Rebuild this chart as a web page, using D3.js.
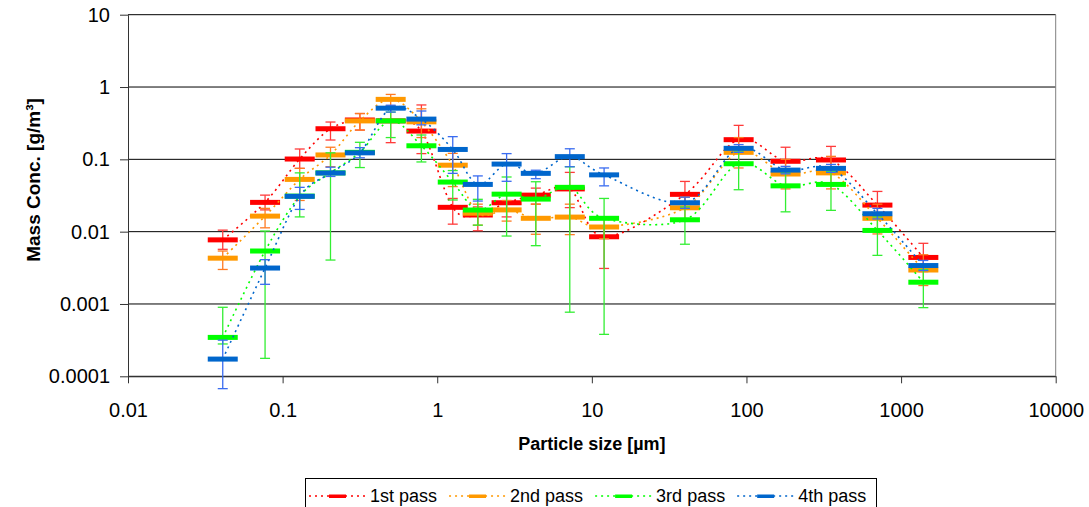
<!DOCTYPE html>
<html>
<head>
<meta charset="utf-8">
<script src="https://cdn.jsdelivr.net/npm/d3@7"></script>
<style>
  body { margin: 0; background: #fff; }
  text { font-family: "Liberation Sans", Arial, sans-serif; fill: #000; }
</style>
</head>
<body>
<svg width="1089" height="507"></svg>
<script>
// particle size classes [µm]
const sizes = [0.041, 0.077, 0.129, 0.204, 0.316, 0.50, 0.79, 1.26, 1.83, 2.81, 4.34, 7.2, 12.0, 40, 89, 179, 352, 703, 1393];

const pass1   = [0.0077, 0.0254, 0.101, 0.265, 0.35, 0.34, 0.246, 0.0217, 0.017, 0.0251, 0.032, 0.039, 0.0085, 0.0328, 0.187, 0.094, 0.098, 0.0233, 0.0044];
const pass1Hi = [0.0105, 0.032, 0.139, 0.328, 0.43, 0.50, 0.565, 0.0288, 0.022, 0.034, 0.04, 0.066, 0.012, 0.0495, 0.295, 0.147, 0.151, 0.036, 0.0069];
const pass1Lo = [0.0057, 0.020, 0.075, 0.185, 0.254, 0.17, 0.12, 0.0127, 0.0103, 0.016, 0.024, 0.0215, 0.0031, 0.022, 0.12, 0.06, 0.063, 0.015, 0.0028];

const pass2   = [0.0043, 0.0164, 0.0528, 0.115, 0.34, 0.675, 0.33, 0.083, 0.018, 0.020, 0.0153, 0.0159, 0.0116, 0.0214, 0.125, 0.0627, 0.065, 0.0153, 0.00295];
const pass2Hi = [0.0054, 0.021, 0.075, 0.147, 0.43, 0.79, 0.50, 0.121, 0.024, 0.027, 0.024, 0.024, 0.015, 0.03, 0.2, 0.1, 0.11, 0.024, 0.0048];
const pass2Lo = [0.0030, 0.0113, 0.027, 0.079, 0.254, 0.55, 0.2, 0.042, 0.0123, 0.014, 0.0092, 0.0091, 0.008, 0.0145, 0.076, 0.039, 0.039, 0.0093, 0.0018];

const pass3   = [0.000345, 0.0054, 0.031, 0.065, 0.125, 0.34, 0.154, 0.0485, 0.0199, 0.033, 0.0282, 0.041, 0.0153, 0.0146, 0.087, 0.043, 0.045, 0.0104, 0.002];
const pass3Hi = [0.0009, 0.0102, 0.065, 0.123, 0.172, 0.45, 0.217, 0.07, 0.028, 0.057, 0.049, 0.079, 0.0288, 0.022, 0.13, 0.065, 0.068, 0.016, 0.003];
const pass3Lo = [0.00028, 0.000177, 0.016, 0.00405, 0.077, 0.2, 0.092, 0.0274, 0.0123, 0.0087, 0.0064, 0.00077, 0.00038, 0.0067, 0.038, 0.0188, 0.0197, 0.0047, 0.00089];

const pass4   = [0.000173, 0.00314, 0.0308, 0.0647, 0.123, 0.51, 0.36, 0.137, 0.045, 0.086, 0.064, 0.109, 0.061, 0.0251, 0.142, 0.071, 0.075, 0.0177, 0.0034];
const pass4Hi = [0.000316, 0.0041, 0.041, 0.078, 0.145, 0.56, 0.466, 0.206, 0.059, 0.12, 0.0707, 0.14, 0.076, 0.03, 0.16, 0.08, 0.085, 0.021, 0.004];
const pass4Lo = [0.0000675, 0.00187, 0.0203, 0.058, 0.105, 0.45, 0.3, 0.064, 0.0265, 0.0497, 0.054, 0.079, 0.043, 0.021, 0.125, 0.063, 0.066, 0.015, 0.0029];

const xTicks = [0.01, 0.1, 1, 10, 100, 1000, 10000];
const xTickLabels = ["0.01", "0.1", "1", "10", "100", "1000", "10000"];
const yTicks = [0.0001, 0.001, 0.01, 0.1, 1, 10];
const yTickLabels = ["0.0001", "0.001", "0.01", "0.1", "1", "10"];

const series = [
  { name: "1st pass", color: "#ff0000", bar: "#ff3b3b", v: pass1, lo: pass1Lo, hi: pass1Hi },
  { name: "2nd pass", color: "#ff9900", bar: "#ff7a22", v: pass2, lo: pass2Lo, hi: pass2Hi },
  { name: "3rd pass", color: "#00ff00", bar: "#33ee33", v: pass3, lo: pass3Lo, hi: pass3Hi },
  { name: "4th pass", color: "#0066cc", bar: "#3a6cf0", v: pass4, lo: pass4Lo, hi: pass4Hi }
];

const svg = d3.select("svg");
const plotLeft = 128, plotRight = 1055.7, plotTop = 14.7, plotBottom = 376.3;

const x = d3.scaleLog().domain([0.01, 10000]).range([plotLeft, plotRight]);
const y = d3.scaleLog().domain([0.0001, 10]).range([plotBottom, plotTop]);

// gridlines
svg.append("g")
  .selectAll("line")
  .data(yTicks)
  .join("line")
  .attr("x1", plotLeft).attr("x2", plotRight)
  .attr("y1", d => y(d)).attr("y2", d => y(d))
  .attr("stroke", "#000").attr("stroke-width", 1);

// right border
svg.append("line")
  .attr("x1", plotRight).attr("x2", plotRight).attr("y1", plotTop).attr("y2", plotBottom)
  .attr("stroke", "#808080");

const yAxis = svg.append("g")
  .attr("transform", "translate(" + plotLeft + ",0)")
  .call(d3.axisLeft(y).tickValues(yTicks)
    .tickFormat((d, i) => yTickLabels[i])
    .tickSizeInner(8).tickSizeOuter(0).tickPadding(10));

const xAxis = svg.append("g")
  .attr("transform", "translate(0," + plotBottom + ")")
  .call(d3.axisBottom(x).tickValues(xTicks)
    .tickFormat((d, i) => xTickLabels[i])
    .tickSizeInner(7).tickSizeOuter(0).tickPadding(20));

[yAxis, xAxis].forEach(a => {
  a.selectAll("text").attr("font-size", 20).attr("font-family", "Liberation Sans, Arial, sans-serif");
  a.select(".domain").attr("stroke", "#333");
  a.selectAll(".tick line").attr("stroke", "#333");
});

svg.append("text")
  .attr("x", (plotLeft + plotRight) / 2).attr("y", 450)
  .attr("text-anchor", "middle")
  .attr("font-size", 18).attr("font-weight", "bold")
  .text("Particle size [µm]");

svg.append("text")
  .attr("transform", "translate(40,180) rotate(-90)")
  .attr("text-anchor", "middle")
  .attr("font-size", 19).attr("font-weight", "bold")
  .text("Mass Conc. [g/m³]");

const line = d3.line()
  .x((d, i) => x(sizes[i]))
  .y(d => y(d))
  .curve(d3.curveCardinal.tension(0));

series.forEach(s => {
  const g = svg.append("g");

  g.append("path")
    .attr("d", line(s.v))
    .attr("fill", "none")
    .attr("stroke", s.color)
    .attr("stroke-width", 1.6)
    .attr("stroke-dasharray", "2,4");

  const eb = g.append("g")
    .selectAll("g")
    .data(s.v)
    .join("g")
    .attr("stroke", s.bar)
    .attr("stroke-width", 1.3);

  eb.append("line")
    .attr("x1", (d, i) => x(sizes[i])).attr("x2", (d, i) => x(sizes[i]))
    .attr("y1", (d, i) => y(s.hi[i])).attr("y2", (d, i) => y(s.lo[i]));
  eb.append("line")
    .attr("x1", (d, i) => x(sizes[i]) - 5).attr("x2", (d, i) => x(sizes[i]) + 5)
    .attr("y1", (d, i) => y(s.hi[i])).attr("y2", (d, i) => y(s.hi[i]));
  eb.append("line")
    .attr("x1", (d, i) => x(sizes[i]) - 5).attr("x2", (d, i) => x(sizes[i]) + 5)
    .attr("y1", (d, i) => y(s.lo[i])).attr("y2", (d, i) => y(s.lo[i]));

  g.append("g")
    .selectAll("rect")
    .data(s.v)
    .join("rect")
    .attr("x", (d, i) => x(sizes[i]) - 15)
    .attr("y", d => y(d) - 2.5)
    .attr("width", 30)
    .attr("height", 5)
    .attr("fill", s.color);
});

// legend
const legend = svg.append("g");
legend.append("rect")
  .attr("x", 305.5).attr("y", 478.5).attr("width", 571).attr("height", 40)
  .attr("fill", "#fff").attr("stroke", "#000");

let lx = 309;
const ly = 496;
series.forEach(s => {
  const item = legend.append("g");
  item.append("line")
    .attr("x1", lx).attr("x2", lx + 56).attr("y1", ly).attr("y2", ly)
    .attr("stroke", s.color).attr("stroke-width", 1.6).attr("stroke-dasharray", "2,4");
  item.append("rect")
    .attr("x", lx + 20).attr("y", ly - 1.5).attr("width", 17).attr("height", 3.5)
    .attr("fill", s.color);
  const t = item.append("text")
    .attr("x", lx + 61).attr("y", 502)
    .attr("font-size", 18)
    .text(s.name);
  lx += 61 + t.node().getComputedTextLength() + 12;
});
</script>
</body>
</html>
